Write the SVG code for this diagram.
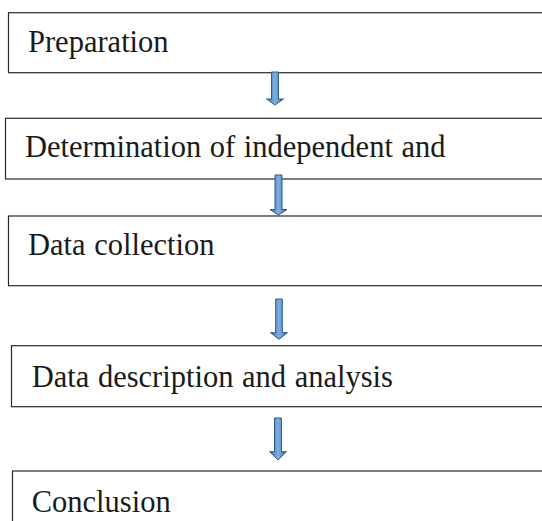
<svg xmlns="http://www.w3.org/2000/svg" width="542" height="521" viewBox="0 0 542 521">
<style>
.box{fill:#ffffff;stroke:#2a2a2a;stroke-width:1.2}
.lbl{font-family:'Liberation Serif','Times New Roman',Tinos,serif;font-size:30.5px;word-spacing:1px;fill:#1a1a1a}
.arr{fill:url(#blue);stroke:#2b5b8e;stroke-width:1}
</style>
<defs>
<linearGradient id="blue" x1="0" y1="0" x2="1" y2="0">
<stop offset="0" stop-color="#3b6ea8"/>
<stop offset="0.5" stop-color="#7eaee3"/>
<stop offset="1" stop-color="#3b6ea8"/>
</linearGradient>
</defs>
<rect width="542" height="521" fill="#ffffff"/>
<g id="n1"><rect class="box" x="8.5" y="12.7" width="560" height="60"/><text class="lbl" x="28" y="51.7">Preparation</text></g>
<g id="n2"><rect class="box" x="5.5" y="118.3" width="560" height="60.7"/><text class="lbl" x="25" y="157">Determination of independent and</text></g>
<g id="n3"><rect class="box" x="8.5" y="216" width="560" height="69.7"/><text class="lbl" x="28" y="255">Data collection</text></g>
<g id="n4"><rect class="box" x="11.5" y="345.7" width="560" height="61"/><text class="lbl" x="31.7" y="387">Data description and analysis</text></g>
<g id="n5"><rect class="box" x="12.5" y="471" width="560" height="80"/><text class="lbl" x="31.7" y="512">Conclusion</text></g>
<g id="connectors">
<path class="arr" d="M271.5 72 H278.5 V99 H283.5 L275 105 L266.5 99 H271.5 Z"/>
<path class="arr" d="M275 175 H282 V209.5 H287 L278.5 215 L270 209.5 H275 Z"/>
<path class="arr" d="M275.7 299 H282.3 V332.7 H287.5 L279 339.3 L270.5 332.7 H275.7 Z"/>
<path class="arr" d="M274.5 418 H281.5 V451.7 H286.5 L278 460 L269.5 451.7 H274.5 Z"/>
</g>
</svg>
